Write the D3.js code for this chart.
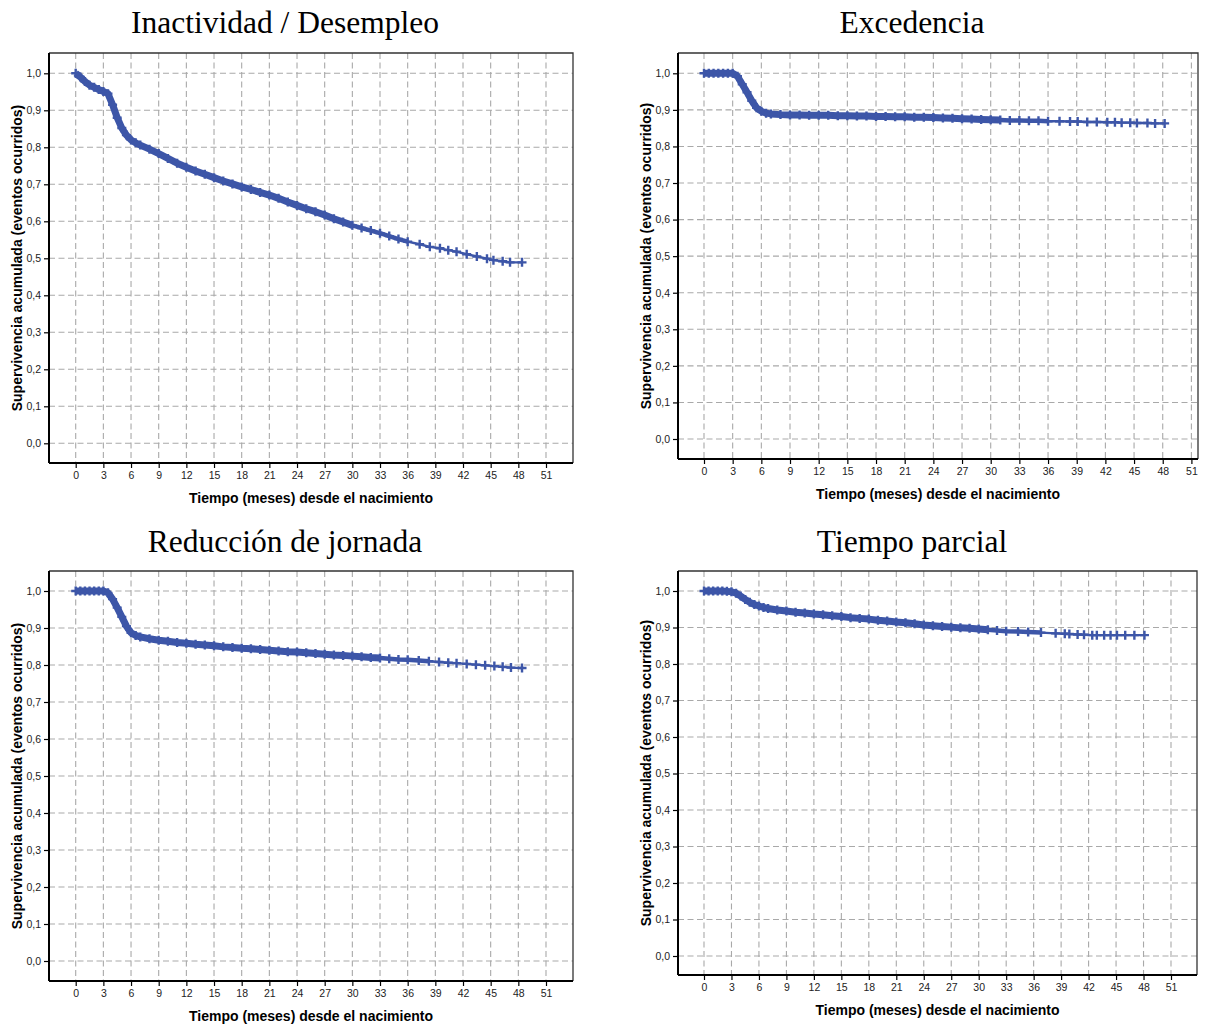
<!DOCTYPE html>
<html>
<head>
<meta charset="utf-8">
<script src="https://cdn.jsdelivr.net/npm/d3@7"></script>
<style>
  body { margin: 0; background: #fff; }
  svg { display: block; }
</style>
</head>
<body>
<svg id="chart" width="1205" height="1025"></svg>
<script>
// ---- DATA ----
const titles = ["Inactividad / Desempleo", "Excedencia", "Reducción de jornada", "Tiempo parcial"];
const xAxisTitle = "Tiempo (meses) desde el nacimiento";
const yAxisTitle = "Supervivencia acumulada (eventos ocurridos)";
const xTicks = [0, 3, 6, 9, 12, 15, 18, 21, 24, 27, 30, 33, 36, 39, 42, 45, 48, 51];
const yTicks = [0, 0.1, 0.2, 0.3, 0.4, 0.5, 0.6, 0.7, 0.8, 0.9, 1.0];
const yTickLabels = ["0,0", "0,1", "0,2", "0,3", "0,4", "0,5", "0,6", "0,7", "0,8", "0,9", "1,0"];

// [month, cumulative survival]
const inactividad = [[0,1.0],[0.5,0.99],[1,0.978],[1.5,0.968],[2,0.962],[2.5,0.956],[3,0.951],[3.5,0.945],[4,0.915],[4.5,0.88],[5,0.852],[5.5,0.833],[6,0.82],[6.5,0.812],[7,0.806],[8,0.795],[9,0.783],[10,0.77],[11,0.757],[12,0.746],[13,0.736],[14,0.727],[15,0.718],[16,0.709],[17,0.701],[18,0.693],[19,0.686],[20,0.678],[21,0.671],[22,0.662],[23,0.652],[24,0.643],[25,0.634],[26,0.626],[27,0.617],[28,0.607],[29,0.598],[30,0.589],[31,0.582],[32,0.575],[33,0.568],[34,0.56],[35,0.552],[36,0.545],[37.3,0.538],[38.4,0.531],[39.5,0.527],[40.4,0.522],[41.3,0.518],[42.4,0.511],[43.5,0.505],[44.6,0.499],[45.3,0.495],[46.3,0.492],[47.1,0.489],[48.4,0.489]];
const excedencia = [[0,1],[0.5,1],[1,1],[1.5,1],[2,1],[2.5,1],[3,1],[3.5,0.992],[4,0.97],[4.5,0.948],[5,0.925],[5.5,0.906],[6,0.896],[6.5,0.891],[7,0.889],[8,0.887],[9,0.886],[10,0.886],[11,0.885],[12,0.885],[13,0.885],[14,0.884],[15,0.884],[16,0.883],[17,0.883],[18,0.882],[19,0.882],[20,0.881],[21,0.881],[22,0.88],[23,0.88],[24,0.879],[25,0.878],[26,0.877],[27,0.876],[28,0.875],[29,0.874],[30,0.873],[31,0.872],[32,0.871],[33,0.871],[34,0.87],[35,0.87],[36,0.869],[37.2,0.869],[38.3,0.868],[39.1,0.868],[40.1,0.867],[41.1,0.867],[42.2,0.866],[43.0,0.866],[43.7,0.865],[44.6,0.865],[45.3,0.864],[46.4,0.864],[47.2,0.863],[48.2,0.863]];
const reduccion = [[0,1],[0.5,1],[1,1],[1.5,1],[2,1],[2.5,1],[3,1],[3.5,0.995],[4,0.978],[4.5,0.955],[5,0.93],[5.5,0.905],[6,0.887],[6.5,0.88],[7,0.876],[8,0.871],[9,0.867],[10,0.864],[11,0.861],[12,0.859],[13,0.856],[14,0.854],[15,0.852],[16,0.849],[17,0.847],[18,0.845],[19,0.844],[20,0.842],[21,0.84],[22,0.838],[23,0.836],[24,0.835],[25,0.833],[26,0.831],[27,0.829],[28,0.827],[29,0.826],[30,0.824],[31,0.822],[32,0.82],[33,0.819],[34,0.817],[35,0.815],[36,0.814],[37.2,0.812],[38.3,0.81],[39.4,0.808],[40.4,0.806],[41.3,0.805],[42.4,0.803],[43.4,0.801],[44.4,0.799],[45.4,0.797],[46.3,0.795],[47.2,0.793],[48.4,0.792]];
const parcial = [[0,1],[0.5,1],[1,1],[1.5,1],[2,1],[2.5,0.999],[3,0.998],[3.5,0.994],[4,0.986],[4.5,0.977],[5,0.969],[5.5,0.963],[6,0.959],[6.5,0.955],[7,0.952],[8,0.948],[9,0.945],[10,0.942],[11,0.94],[12,0.937],[13,0.935],[14,0.932],[15,0.93],[16,0.927],[17,0.925],[18,0.923],[19,0.92],[20,0.918],[21,0.915],[22,0.913],[23,0.91],[24,0.907],[25,0.905],[26,0.903],[27,0.901],[28,0.899],[29,0.898],[30,0.896],[31,0.894],[32,0.892],[33,0.89],[34.3,0.889],[35.4,0.888],[36.8,0.886],[38.4,0.884],[39.4,0.883],[39.9,0.882],[40.8,0.881],[41.5,0.88],[42.4,0.879],[42.9,0.879],[43.7,0.879],[44.4,0.879],[45.1,0.879],[46.0,0.879],[47.0,0.879],[48.1,0.879]];

const seriesList = [inactividad, excedencia, reduccion, parcial];

// ---- LAYOUT (pixel geometry of each panel) ----
const layout = [
  {l: 49, t: 53, r: 573, b: 463, x0: 75.7, x51: 546, y1: 73.3, y0: 443.3, cx: 285, ty: 33, dense: 30},
  {l: 678, t: 53, r: 1198, b: 459, x0: 704, x51: 1191.4, y1: 73.3, y0: 439, cx: 912, ty: 33, dense: 31},
  {l: 49, t: 571, r: 573, b: 981, x0: 75.7, x51: 546, y1: 591, y0: 961, cx: 285, ty: 552, dense: 33},
  {l: 678, t: 571, r: 1197, b: 975, x0: 704, x51: 1171, y1: 591, y0: 956, cx: 912, ty: 552, dense: 31}
];

const color = "#3d56a8";
const gridColor = "#a9a9a9";
const svg = d3.select("#chart");

seriesList.forEach((data, i) => {
  const L = layout[i];
  const x = d3.scaleLinear().domain([0, 51]).range([L.x0, L.x51]);
  const y = d3.scaleLinear().domain([0, 1]).range([L.y0, L.y1]);
  const g = svg.append("g");

  // title
  g.append("text")
    .attr("x", L.cx).attr("y", L.ty)
    .attr("text-anchor", "middle")
    .style("font-family", "'Liberation Serif', 'Times New Roman', serif")
    .style("font-size", "31.5px")
    .attr("fill", "#000")
    .text(titles[i]);

  // grid
  g.append("g").selectAll("line").data(yTicks).join("line")
    .attr("x1", L.l).attr("x2", L.r)
    .attr("y1", d => y(d)).attr("y2", d => y(d))
    .attr("stroke", gridColor).attr("stroke-width", 1.1)
    .attr("stroke-dasharray", "6,3.5");
  g.append("g").selectAll("line").data(xTicks).join("line")
    .attr("x1", d => x(d)).attr("x2", d => x(d))
    .attr("y1", L.t).attr("y2", L.b)
    .attr("stroke", gridColor).attr("stroke-width", 1.1)
    .attr("stroke-dasharray", "6,3.5");

  // frame top/right
  g.append("path")
    .attr("d", `M${L.l},${L.t}H${L.r}V${L.b}`)
    .attr("fill", "none").attr("stroke", "#333").attr("stroke-width", 1.3);

  // axes
  const xAxis = d3.axisBottom(x).tickValues(xTicks).tickSize(5).tickSizeOuter(0).tickPadding(4)
    .tickFormat(d3.format("d"));
  const gx = g.append("g").attr("transform", `translate(0,${L.b})`).call(xAxis);
  gx.select(".domain").remove();
  gx.append("line").attr("x1", L.l).attr("x2", L.r).attr("stroke", "#000").attr("stroke-width", 2);
  const yAxis = d3.axisLeft(y).tickValues(yTicks).tickSize(5).tickSizeOuter(0).tickPadding(3)
    .tickFormat((d, k) => yTickLabels[k]);
  const gy = g.append("g").attr("transform", `translate(${L.l},0)`).call(yAxis);
  gy.select(".domain").remove();
  gy.append("line").attr("y1", L.t).attr("y2", L.b).attr("stroke", "#000").attr("stroke-width", 2);
  [gx, gy].forEach(a => {
    a.selectAll(".tick line").attr("stroke", "#000").attr("stroke-width", 1.2);
    a.selectAll(".tick text")
      .style("font-family", "Arial, 'Liberation Sans', sans-serif")
      .style("font-size", "10.5px").attr("fill", "#222");
  });

  // axis titles
  g.append("text")
    .attr("x", (L.l + L.r) / 2).attr("y", L.b + 40)
    .attr("text-anchor", "middle")
    .style("font-family", "Arial, 'Liberation Sans', sans-serif")
    .style("font-size", "14px").style("font-weight", "bold")
    .text(xAxisTitle);
  g.append("text")
    .attr("transform", `translate(${L.l - 27},${(L.t + L.b) / 2}) rotate(-90)`)
    .attr("text-anchor", "middle")
    .style("font-family", "Arial, 'Liberation Sans', sans-serif")
    .style("font-size", "14px").style("font-weight", "bold")
    .text(yAxisTitle);

  // curve
  const line = d3.line().x(d => x(d[0])).y(d => y(d[1]));
  g.append("path")
    .datum(data.filter(d => d[0] <= L.dense + 6))
    .attr("d", line).attr("fill", "none")
    .attr("stroke", color).attr("stroke-width", 4.5)
    .attr("stroke-linejoin", "round").attr("stroke-linecap", "butt");
  g.append("path")
    .datum(data.filter(d => d[0] <= L.dense))
    .attr("d", line).attr("fill", "none")
    .attr("stroke", color).attr("stroke-width", 7)
    .attr("stroke-linejoin", "round").attr("stroke-linecap", "butt");
  g.append("path")
    .datum(data)
    .attr("d", line).attr("fill", "none")
    .attr("stroke", color).attr("stroke-width", 2.4)
    .attr("stroke-linejoin", "round");
  g.append("g").selectAll("path").data(data).join("path")
    .attr("transform", d => `translate(${x(d[0])},${y(d[1])})`)
    .attr("d", "M-4.5,0H4.5M0,-4.5V4.5")
    .attr("stroke", color).attr("stroke-width", 2.4).attr("fill", "none");
});
</script>
</body>
</html>
